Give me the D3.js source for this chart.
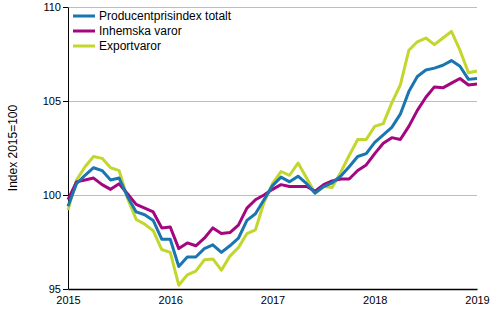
<!DOCTYPE html>
<html>
<head>
<meta charset="utf-8">
<script src="https://cdn.jsdelivr.net/npm/d3@7"></script>
<style>
body { margin: 0; background: #fff; }
text { font-family: "Liberation Sans", Arial, sans-serif; }
</style>
</head>
<body>
<div id="chart"></div>
<script>
// monthly values, Jan 2015 .. Jan 2019
const totalt = [
	99.4, 100.6, 101.05, 101.45, 101.3, 100.8, 100.9, 99.9, 99.1, 98.95, 98.65, 97.65,
	97.65, 96.2, 96.7, 96.7, 97.15, 97.35, 96.95, 97.3, 97.7, 98.65, 99.0, 99.75,
	100.5, 100.95, 100.7, 101.0, 100.6, 100.1, 100.45, 100.65, 101.0, 101.5, 102.05, 102.2,
	102.8, 103.2, 103.6, 104.3, 105.5, 106.3, 106.65, 106.75, 106.9, 107.15, 106.85, 106.15,
	106.2
];
const inhemska = [
	99.75, 100.7, 100.8, 100.9, 100.55, 100.3, 100.6, 100.05, 99.5, 99.3, 99.1, 98.25,
	98.3, 97.15, 97.45, 97.3, 97.7, 98.25, 97.95, 98.0, 98.4, 99.3, 99.75, 100.0,
	100.3, 100.55, 100.45, 100.45, 100.45, 100.2, 100.55, 100.75, 100.85, 100.85, 101.3, 101.6,
	102.2, 102.75, 103.05, 102.95, 103.65, 104.5, 105.2, 105.75, 105.7, 105.95, 106.2, 105.85,
	105.9
];
const export_ = [
	99.2, 100.8, 101.5, 102.05, 101.95, 101.45, 101.3, 99.8, 98.7, 98.45, 98.1, 97.1,
	96.95, 95.2, 95.75, 95.95, 96.55, 96.6, 96.0, 96.75, 97.2, 97.95, 98.15, 99.6,
	100.6, 101.25, 101.05, 101.7, 100.9, 100.1, 100.45, 100.4, 101.2, 102.1, 102.95, 102.95,
	103.65, 103.8, 104.9, 105.85, 107.7, 108.15, 108.35, 108.0, 108.35, 108.7, 107.7, 106.5,
	106.6
];
const seriesNames = [ 'Producentprisindex totalt', 'Inhemska varor', 'Exportvaror' ];
const seriesColors = [ '#1a75b0', '#a3067f', '#c3d62d' ];
const yTicks = [ 95, 100, 105, 110 ];
const xTicks = [ 2015, 2016, 2017, 2018, 2019 ];

const dimensions = {
	width  : 500,
	height : 330,
	margin : { top: 7, right: 23, bottom: 41, left: 68 }
};
dimensions.boundedWidth = dimensions.width - dimensions.margin.left - dimensions.margin.right;
dimensions.boundedHeight = dimensions.height - dimensions.margin.top - dimensions.margin.bottom;

const svg = d3.select('#chart').append('svg').attr('width', dimensions.width).attr('height', dimensions.height);
const bounds = svg.append('g').attr('transform', `translate(${dimensions.margin.left}, ${dimensions.margin.top})`);

const x = d3.scaleLinear().domain([ 2015, 2019 ]).range([ 0, dimensions.boundedWidth ]);
const y = d3.scaleLinear().domain([ 95, 110 ]).range([ dimensions.boundedHeight, 0 ]);

// grid
bounds
	.append('g')
	.selectAll('line')
	.data(yTicks.filter((d) => d > 95))
	.enter()
	.append('line')
	.attr('x1', 0)
	.attr('x2', dimensions.boundedWidth)
	.attr('y1', (d) => Math.round(y(d)) + 0.5)
	.attr('y2', (d) => Math.round(y(d)) + 0.5)
	.attr('stroke', '#bdbdbd')
	.attr('stroke-width', 1);

const yAxis = bounds
	.append('g')
	.call(d3.axisLeft(y).tickValues(yTicks).tickSize(5).tickSizeOuter(0).tickPadding(2));
yAxis.selectAll('text').attr('font-size', 11).attr('fill', '#000').attr('font-family', '"Liberation Sans", Arial, sans-serif');
yAxis.select('.domain').attr('stroke', '#000');
yAxis.selectAll('line').attr('stroke', '#000');

const xAxis = bounds
	.append('g')
	.attr('transform', `translate(0, ${dimensions.boundedHeight})`)
	.call(d3.axisBottom(x).tickValues(xTicks).tickFormat(d3.format('d')).tickSize(0).tickSizeOuter(0).tickPadding(7));
xAxis.selectAll('text').attr('font-size', 11).attr('fill', '#000').attr('font-family', '"Liberation Sans", Arial, sans-serif');
xAxis.select('.domain').attr('stroke', '#000').attr('stroke-width', 1.5);

svg
	.append('text')
	.attr('transform', `translate(17, ${dimensions.margin.top + dimensions.boundedHeight / 2}) rotate(-90)`)
	.attr('text-anchor', 'middle')
	.attr('font-size', 12)
	.text('Index 2015=100');

const monthX = (i) => x(2015 + i / 12);
const line = d3.line().x((d, i) => monthX(i)).y((d) => y(d));

// draw export first so total sits on top like the original
const drawOrder = [ 2, 1, 0 ];
const allSeries = [ totalt, inhemska, export_ ];
drawOrder.forEach(function(k) {
	bounds
		.append('path')
		.datum(allSeries[k])
		.attr('fill', 'none')
		.attr('stroke', seriesColors[k])
		.attr('stroke-width', 3)
		.attr('stroke-linejoin', 'round')
		.attr('d', line);
});

// legend
const legend = svg.append('g').attr('transform', 'translate(73, 16)');
seriesNames.forEach(function(name, i) {
	const row = legend.append('g').attr('transform', `translate(0, ${i * 15})`);
	row.append('line').attr('x1', 0).attr('x2', 22).attr('stroke', seriesColors[i]).attr('stroke-width', 3);
	row.append('text').attr('x', 26).attr('dy', '0.35em').attr('font-size', 12).text(name);
});
</script>
</body>
</html>
